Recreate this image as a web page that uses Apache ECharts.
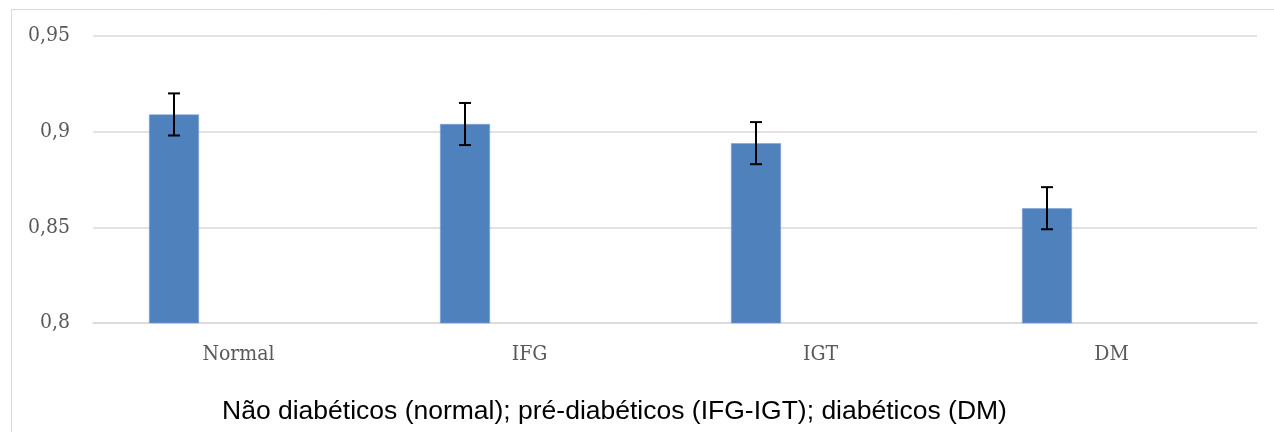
<!DOCTYPE html>
<html>
<head>
<meta charset="utf-8">
<script src="https://cdn.jsdelivr.net/npm/echarts@6/dist/echarts.min.js"></script>
<style>
html,body{margin:0;padding:0;background:#fff;}
#chart{width:1274px;height:432px;}
</style>
</head>
<body>
<div id="chart"></div>
<script>
const categories = ['Normal', 'IFG', 'IGT', 'DM'];
const means = [0.909, 0.904, 0.894, 0.860];
const errors = [0.011, 0.011, 0.011, 0.011];
const yTicks = { min: 0.8, max: 0.95, interval: 0.05 };
const caption = 'Não diabéticos (normal); pré-diabéticos (IFG-IGT); diabéticos (DM)';

const BAR_W = 50, BAR_GAP = 14.5, N_SLOTS = 3;
const firstOffset = -(N_SLOTS * BAR_W + (N_SLOTS - 1) * BAR_GAP) / 2 + BAR_W / 2;

const chart = echarts.init(document.getElementById('chart'));
const option = {
  animation: false,
  backgroundColor: '#fff',
  graphic: [
    { type: 'rect', left: 9, top: 7, shape: { width: 1300, height: 500 }, style: { fill: 'none', stroke: '#d9d9d9', lineWidth: 1 }, silent: true },
    { type: 'text', left: 222, top: 398, style: { text: caption, fill: '#000', font: '26.5px "Liberation Sans", Arial, sans-serif' } }
  ],
  grid: { left: 93, right: 17, top: 36, bottom: 109 },
  xAxis: {
    type: 'category',
    data: categories,
    axisTick: { show: false },
    axisLine: { lineStyle: { color: '#d9d9d9', width: 1.5 } },
    axisLabel: { color: '#595959', fontFamily: '"DejaVu Serif Condensed", "DejaVu Serif", serif', fontSize: 21, margin: 21 }
  },
  yAxis: {
    type: 'value',
    min: yTicks.min, max: yTicks.max, interval: yTicks.interval,
    axisLine: { show: false },
    axisTick: { show: false },
    splitLine: { lineStyle: { color: '#d9d9d9', width: 1.5 } },
    axisLabel: {
      color: '#595959', fontFamily: '"DejaVu Serif Condensed", "DejaVu Serif", serif', fontSize: 21, margin: 23,
      formatter: v => String(+v.toFixed(4)).replace('.', ',')
    }
  },
  series: [
    { type: 'bar', data: means, barWidth: BAR_W, barGap: (BAR_GAP / BAR_W * 100) + '%',
      itemStyle: { color: '#4f81bd', borderColor: '#7fa3d3', borderWidth: 0.6 }, z: 2 },
    { type: 'bar', data: categories.map(() => null), barWidth: BAR_W },
    { type: 'bar', data: categories.map(() => null), barWidth: BAR_W },
    {
      type: 'custom',
      data: means.map((m, i) => [i, m - errors[i], m + errors[i]]),
      z: 5,
      renderItem: function (params, api) {
        const lo = api.coord([api.value(0), api.value(1)]);
        const hi = api.coord([api.value(0), api.value(2)]);
        const x = lo[0] + firstOffset;
        const cap = 6;
        const st = { stroke: '#000', lineWidth: 2, fill: 'none' };
        return {
          type: 'group',
          children: [
            { type: 'line', shape: { x1: x, y1: hi[1], x2: x, y2: lo[1] }, style: st },
            { type: 'line', shape: { x1: x - cap, y1: hi[1], x2: x + cap, y2: hi[1] }, style: st },
            { type: 'line', shape: { x1: x - cap, y1: lo[1], x2: x + cap, y2: lo[1] }, style: st }
          ]
        };
      }
    }
  ]
};
chart.setOption(option);
</script>
</body>
</html>
